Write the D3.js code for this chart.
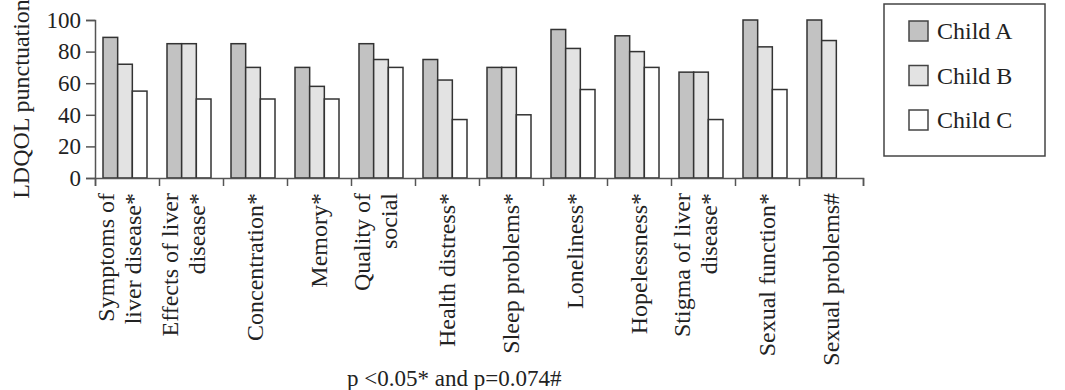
<!DOCTYPE html>
<html>
<head>
<meta charset="utf-8">
<script src="https://cdn.jsdelivr.net/npm/d3@7"></script>
<style>
  body { margin: 0; background: #fff; }
  svg text { font-family: "Liberation Serif", "Times New Roman", serif; fill: #222; }
</style>
</head>
<body>
<div class="chart"></div>
<script>
const categories = [
  ["Symptoms of", "liver disease*"],
  ["Effects of liver", "disease*"],
  ["Concentration*"],
  ["Memory*"],
  ["Quality of", "social"],
  ["Health distress*"],
  ["Sleep problems*"],
  ["Loneliness*"],
  ["Hopelessness*"],
  ["Stigma of liver", "disease*"],
  ["Sexual function*"],
  ["Sexual problems#"]
];
const series = ["Child A", "Child B", "Child C"];
const childA = [89, 85, 85, 70, 85, 75, 70, 94, 90, 67, 100, 100];
const childB = [72, 85, 70, 58, 75, 62, 70, 82, 80, 67, 83, 87];
const childC = [55, 50, 50, 50, 70, 37, 40, 56, 70, 37, 56, 0];
const yTicks = [0, 20, 40, 60, 80, 100];
const colors = ["#c2c2c2", "#e3e3e3", "#ffffff"];

const width = 1065, height = 390;
const svg = d3.select(".chart").append("svg")
  .attr("width", width)
  .attr("height", height);

const values = [childA, childB, childC];
const idx = d3.range(categories.length);

// scales
const x0 = d3.scaleBand().domain(idx).range([95, 863]);
const x1 = d3.scaleBand().domain(series).range([8, 52]);
const y = d3.scaleLinear().domain([0, 100]).range([178, 20]);
const xEdge = d3.scaleLinear().domain([0, categories.length]).range([95, 863]);

// bars
const groups = svg.append("g").selectAll("g")
  .data(idx)
  .join("g")
    .attr("transform", i => `translate(${x0(i)},0)`);
groups.selectAll("rect")
  .data(i => series.map((s, k) => ({ s, k, v: values[k][i] })).filter(d => d.v > 0))
  .join("rect")
    .attr("x", d => x1(d.s))
    .attr("width", x1.bandwidth())
    .attr("y", d => y(d.v))
    .attr("height", d => y(0) - y(d.v))
    .attr("fill", d => colors[d.k])
    .attr("stroke", "#333")
    .attr("stroke-width", 1.5);

// y axis
const yAxis = svg.append("g")
  .attr("transform", "translate(95,0)")
  .call(d3.axisLeft(y).tickValues(yTicks).tickSize(9).tickPadding(5));
yAxis.selectAll("text").style("font-size", "23px").attr("fill", "#222");

// x axis with ticks at category edges
const xAxis = svg.append("g")
  .attr("transform", `translate(0,${y(0)})`)
  .call(d3.axisBottom(xEdge).tickValues(d3.range(categories.length + 1)).tickSize(8).tickFormat(""));
[yAxis, xAxis].forEach(a => {
  a.select(".domain").attr("stroke", "#555").attr("stroke-width", 1.5);
  a.selectAll(".tick line").attr("stroke", "#555").attr("stroke-width", 1.5);
});

// category labels, rotated
const labels = svg.append("g").selectAll("text")
  .data(idx)
  .join("text")
    .attr("transform", i => `translate(${x0(i) + x0.bandwidth() / 2},193) rotate(-90)`)
    .attr("text-anchor", "end")
    .style("font-size", "24px");
labels.selectAll("tspan")
  .data(i => categories[i].map((t, j, arr) => ({ t, dy: arr.length === 1 ? 8 : (j === 0 ? -13 : 14) })))
  .join("tspan")
    .attr("x", 0)
    .attr("y", d => d.dy)
    .text(d => d.t);

// y axis title
svg.append("text")
  .attr("transform", "translate(29,99) rotate(-90)")
  .attr("text-anchor", "middle")
  .style("font-size", "24px")
  .text("LDQOL punctuation");

// footnote
svg.append("text")
  .attr("x", 347)
  .attr("y", 386)
  .style("font-size", "23px")
  .text("p <0.05* and p=0.074#");

// legend
const legend = svg.append("g");
legend.append("rect")
  .attr("x", 884).attr("y", 4)
  .attr("width", 161).attr("height", 152)
  .attr("fill", "#fff")
  .attr("stroke", "#444")
  .attr("stroke-width", 1.5);
const items = legend.selectAll("g.item")
  .data(series)
  .join("g")
    .attr("class", "item")
    .attr("transform", (d, k) => `translate(909,${21 + k * 44.5})`);
items.append("rect")
  .attr("width", 19).attr("height", 20)
  .attr("fill", (d, k) => colors[k])
  .attr("stroke", "#444")
  .attr("stroke-width", 1.5);
items.append("text")
  .attr("x", 28).attr("y", 18)
  .style("font-size", "24px")
  .text(d => d);
</script>
</body>
</html>
